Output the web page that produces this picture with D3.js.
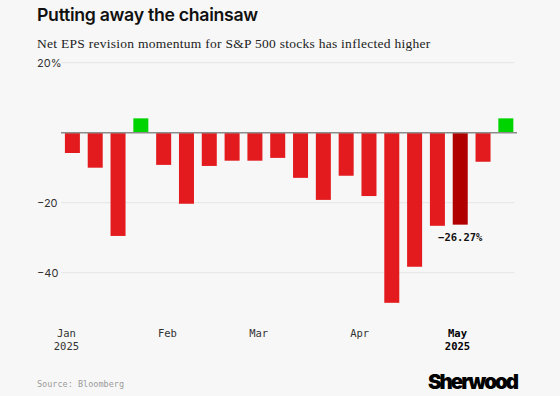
<!DOCTYPE html>
<html>
<head>
<meta charset="utf-8">
<script src="https://cdn.jsdelivr.net/npm/d3@7"></script>
<style>
  html, body { margin: 0; padding: 0; background: #f7f7f7; }
  svg { display: block; }
</style>
</head>
<body>
<div id="chart"></div>
<script>
// weekly readings (Fridays)
var weeks = ["2025-01-03", "2025-01-10", "2025-01-17", "2025-01-24", "2025-01-31",
             "2025-02-07", "2025-02-14", "2025-02-21", "2025-02-28", "2025-03-07",
             "2025-03-14", "2025-03-21", "2025-03-28", "2025-04-04", "2025-04-11",
             "2025-04-18", "2025-04-25", "2025-05-02", "2025-05-09", "2025-05-16"];
var revisions = [-5.8, -10.0, -29.5, 4.1, -9.2, -20.3, -9.5, -8.0, -8.0, -7.2,
                 -12.9, -19.2, -12.3, -18.1, -48.6, -38.3, -26.6, -26.27, -8.3, 4.1];
var highlightWeek = "2025-05-02";
var highlightLabel = "\u221226.27%";

var monthTicks = ["2025-01-01", "2025-02-01", "2025-03-01", "2025-04-01", "2025-05-01"];
var monthLabels = ["Jan", "Feb", "Mar", "Apr", "May"];
var yearLabels = ["2025", "", "", "", "2025"];
var yTicks = [20, -20, -40];

var W = 560, H = 396;
var parse = d3.timeParse("%Y-%m-%d");

var svg = d3.select("#chart")
    .append("svg")
    .attr("width", W)
    .attr("height", H);

svg.append("rect").attr("width", W).attr("height", H).attr("fill", "#f7f7f7");

// titles
svg.append("text")
    .attr("x", 37).attr("y", 21)
    .style("font-family", "Inter, 'Liberation Sans', sans-serif")
    .style("font-weight", 600)
    .style("font-size", "17.7px")
    .style("letter-spacing", "-0.3px")
    .attr("fill", "#111")
    .text("Putting away the chainsaw");

svg.append("text")
    .attr("x", 37).attr("y", 48)
    .style("font-family", "'Liberation Serif', 'DejaVu Serif', serif")
    .style("font-size", "13.5px")
    .style("letter-spacing", "0.27px")
    .attr("fill", "#222")
    .text("Net EPS revision momentum for S&P 500 stocks has inflected higher");

// scales
var x = d3.scaleTime()
    .domain([new Date(2024, 11, 30, 12), new Date(2025, 4, 18, 12)])
    .range([61, 514]);

var y = d3.scaleLinear()
    .domain([-50, 20])
    .range([307.7, 62.7]);

var barW = 15;

// gridlines
svg.append("g")
    .selectAll("line")
    .data(yTicks)
    .enter()
    .append("line")
    .attr("x1", 61).attr("x2", 514)
    .attr("y1", function (d) { return y(d); })
    .attr("y2", function (d) { return y(d); })
    .attr("stroke", "#e4e4e4")
    .attr("stroke-width", 1);

// y labels
svg.append("g")
    .selectAll("text")
    .data(yTicks)
    .enter()
    .append("text")
    .attr("x", 37)
    .attr("y", function (d) { return y(d) + 4.5; })
    .style("font-family", "Inter, 'Liberation Sans', sans-serif")
    .style("font-size", "11px")
    .attr("fill", "#333")
    .text(function (d) { return d > 0 ? d + "%" : "\u2212" + Math.abs(d); });

// bars
var data = weeks.map(function (w, i) { return { date: parse(w), key: w, value: revisions[i] }; });

svg.append("g")
    .selectAll("rect")
    .data(data)
    .enter()
    .append("rect")
    .attr("x", function (d) { return x(d.date) - barW / 2; })
    .attr("width", barW)
    .attr("y", function (d) { return y(Math.max(0, d.value)); })
    .attr("height", function (d) { return Math.abs(y(d.value) - y(0)); })
    .attr("fill", function (d) {
        if (d.key === highlightWeek) return "#b00000";
        return d.value > 0 ? "#00d400" : "#e31b1f";
    });

// zero line
svg.append("line")
    .attr("x1", 61).attr("x2", 517)
    .attr("y1", y(0)).attr("y2", y(0))
    .attr("stroke", "#8c8c8c")
    .attr("stroke-width", 1.5);

// annotation
var hl = data.filter(function (d) { return d.key === highlightWeek; })[0];
svg.append("text")
    .attr("x", x(hl.date))
    .attr("y", y(hl.value) + 16)
    .attr("text-anchor", "middle")
    .style("font-family", "'DejaVu Sans Mono', 'Liberation Mono', monospace")
    .style("font-weight", "bold")
    .style("font-size", "10.5px")
    .attr("fill", "#111")
    .text(highlightLabel);

// x axis
var xAxis = svg.append("g")
    .attr("transform", "translate(0,325)")
    .call(d3.axisBottom(x)
        .tickValues(monthTicks.map(parse))
        .tickSize(0)
        .tickFormat(function (d, i) { return monthLabels[i]; }));

xAxis.select(".domain").remove();
xAxis.selectAll("text")
    .attr("y", 0).attr("dy", 0)
    .style("font-family", "'DejaVu Sans Mono', 'Liberation Mono', monospace")
    .style("font-size", "10.5px")
    .style("font-weight", function (d, i) { return i === 4 ? "bold" : "normal"; })
    .attr("fill", function (d, i) { return i === 4 ? "#000" : "#333"; })
    .text(null)
    .each(function (d, i) {
        var t = d3.select(this);
        t.append("tspan").attr("x", 0).attr("y", 11.7).text(monthLabels[i]);
        if (yearLabels[i]) t.append("tspan").attr("x", 0).attr("y", 25).text(yearLabels[i]);
    });

// footer
svg.append("text")
    .attr("x", 37).attr("y", 387)
    .style("font-family", "'DejaVu Sans Mono', 'Liberation Mono', monospace")
    .style("font-size", "8.5px")
    .attr("fill", "#9a9a9a")
    .text("Source: Bloomberg");

svg.append("text")
    .attr("x", 517).attr("y", 388.5)
    .attr("text-anchor", "end")
    .style("font-family", "Inter, 'Liberation Sans', sans-serif")
    .style("font-weight", 900)
    .style("font-size", "20.5px")
    .style("letter-spacing", "-2px")
    .attr("fill", "#000")
    .text("Sherwood");
</script>
</body>
</html>
